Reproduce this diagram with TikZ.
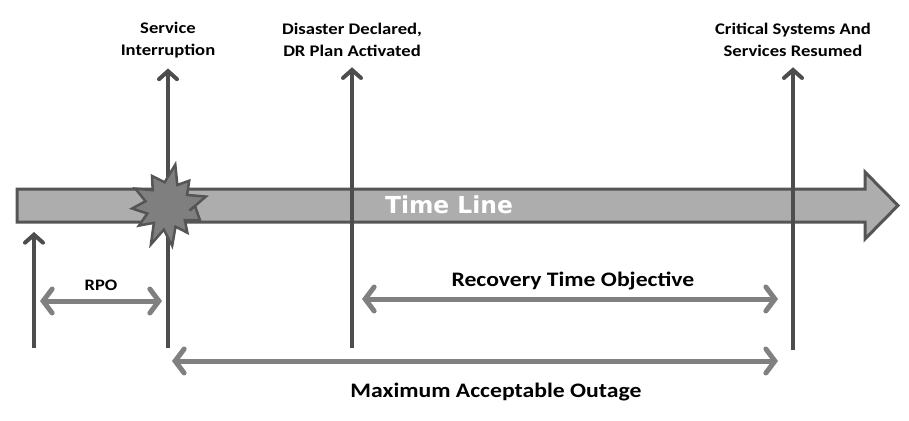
\documentclass[tikz,border=0pt]{standalone}
\usepackage{fontspec}
\setmainfont{Carlito}[FakeStretch=1.15]
\newfontfamily\barfont{DejaVu Sans}
\usetikzlibrary{arrows.meta,positioning}
\definecolor{GrisBorde}{HTML}{555555}
\definecolor{GrisBarra}{HTML}{ADADAD}
\definecolor{GrisFlecha}{HTML}{4D4D4D}
\definecolor{GrisSpan}{HTML}{808080}
\definecolor{GrisBurst}{HTML}{7F7F7F}

\begin{document}
\begin{tikzpicture}[
  x=1pt,y=-1pt,
  every node/.style={font=\bfseries},
  event/.style={-{Straight Barb[length=8pt,width=18pt,line cap=round]},line width=4pt,draw=GrisFlecha},
  span/.style={{Straight Barb[length=9pt,width=24pt,line cap=round]}-{Straight Barb[length=9pt,width=24pt,line cap=round]},line width=5pt,draw=GrisSpan},
  toplabel/.style={align=center,font=\bfseries\fontsize{16.2}{22}\selectfont},
  spanlabel/.style={font=\bfseries\fontsize{20.6}{24}\selectfont},
  burst/.style={fill=GrisBurst,draw=GrisBorde,line width=2.5pt,line join=miter}
]
  \useasboundingbox (0,0) rectangle (909,420);

  % Barra de la linea de tiempo.
  \draw[fill=GrisBarra,draw=GrisBorde,line width=3pt,line join=miter]
    (17,189) -- (865,189) -- (865,172) -- (898,205.5) -- (865,239)
    -- (865,222) -- (17,222) -- cycle;
  \node[text=white,font=\barfont\bfseries\fontsize{23.4}{26}\selectfont] (tline) at (449,204.5) {Time Line};

  % Eventos sobre la linea de tiempo.
  \node[toplabel] (si) at (168,40) {Service\\Interruption};
  \node[toplabel] (dd) at (352,40) {Disaster Declared,\\DR Plan Activated};
  \node[toplabel] (cs) at (793,40) {Critical Systems And\\Services Resumed};
  \coordinate (si-base) at (168,348);
  \coordinate (dd-base) at (352,348);
  \coordinate (cs-base) at (793,350);
  \coordinate (rpo-base) at (34,348);
  \coordinate (rpo-tip) at (34,232);
  \draw[event,shorten >=7pt] (si-base) -- (si.south);
  \draw[event,shorten >=7pt] (dd-base) -- (dd.south);
  \draw[event,shorten >=7pt] (cs-base) -- (cs.south);
  \draw[event] (rpo-base) -- (rpo-tip);

  % Estallido de la interrupcion.
  \draw[burst,shift={(168,206)}] (0:27)
    \foreach \a/\r in {12/22,-14/39,-30/22,-50/33,-66/23,-80/42,-98/24,-118/34,
                       -134/22,-152/37,-168/23,176/36,160/22,146/35,130/22,
                       114/42,100/24,84/40,70/22,54/33,40/22,24/35}
    { -- (\a:\r) } -- cycle;

  % Intervalos.
  \coordinate (rpo-l) at (40,301);
  \coordinate (rpo-r) at (162,301);
  \coordinate (rto-l) at (362,299);
  \coordinate (rto-r) at (778,299);
  \coordinate (mao-l) at (172,361);
  \coordinate (mao-r) at (778,361);
  \draw[span] (rpo-l) -- (rpo-r);
  \draw[span] (rto-l) -- (rto-r);
  \draw[span] (mao-l) -- (mao-r);
  \node[font=\bfseries\fontsize{16}{18}\selectfont] (rpo) at (101,285) {RPO};
  \node[spanlabel] (rto) at (573,281) {Recovery Time Objective};
  \node[spanlabel] (mao) at (496,392) {Maximum Acceptable Outage};
\end{tikzpicture}
\end{document}
